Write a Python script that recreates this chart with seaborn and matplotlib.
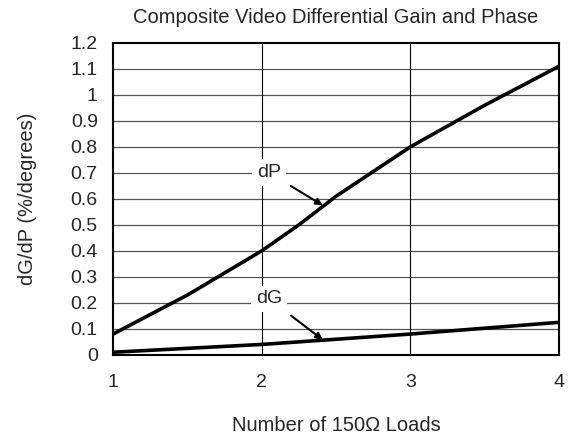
import matplotlib
matplotlib.use('Agg')
import matplotlib.pyplot as plt
import numpy as np
import pandas as pd
import seaborn as sns

loads = [1, 1.5, 2, 2.25, 2.5, 3, 3.5, 4]
dp_values = [0.08, 0.23, 0.40, 0.50, 0.61, 0.80, 0.96, 1.11]
dg_loads = [1, 2, 3, 4]
dg_values = [0.01, 0.04, 0.08, 0.125]

sns.set_style('white')
plt.rcParams['font.family'] = ['Liberation Sans', 'DejaVu Sans']

df = pd.concat([
    pd.DataFrame({'Loads': loads, 'Value': dp_values, 'Curve': 'dP'}),
    pd.DataFrame({'Loads': dg_loads, 'Value': dg_values, 'Curve': 'dG'}),
])

fig = plt.figure(figsize=(5.74, 4.37), dpi=100)
ax = fig.add_axes([0.197, 0.188, 0.777, 0.714])

sns.lineplot(data=df, x='Loads', y='Value', units='Curve', estimator=None,
             color='black', linewidth=2.6, ax=ax, legend=False, sort=True)

ax.set_xlim(1, 4)
ax.set_ylim(0, 1.2)
ax.set_xticks([1, 2, 3, 4])
ax.set_xticklabels(['1', '2', '3', '4'])
ax.set_yticks(np.arange(0, 1.21, 0.1))
ax.set_yticklabels(['0', '0.1', '0.2', '0.3', '0.4', '0.5', '0.6', '0.7',
                    '0.8', '0.9', '1', '1.1', '1.2'])
ax.tick_params(axis='both', labelsize=14, length=0)
ax.tick_params(axis='y', pad=11)
ax.tick_params(axis='x', pad=14)

for y in np.arange(0.1, 1.2, 0.1):
    ax.axhline(y, color='#555555', linewidth=0.9, zorder=0)
for x in [2, 3]:
    ax.axvline(x, color='black', linewidth=0.8, zorder=0)
for s in ax.spines.values():
    s.set_color('black')
    s.set_linewidth(1.5)

ax.set_xlabel('Number of 150Ω Loads', fontsize=14.5, labelpad=18)
ax.set_ylabel('dG/dP (%/degrees)', fontsize=14.5, labelpad=24)
ax.set_title('Composite Video Differential Gain and Phase', fontsize=14.5, pad=14)

bbox = dict(boxstyle='square,pad=0.25', fc='white', ec='none')
ax.annotate('dP', xy=(2.41, 0.575), xytext=(2.05, 0.70), fontsize=14,
            ha='center', va='center', bbox=bbox,
            arrowprops=dict(arrowstyle='-|>', color='black', lw=1.5,
                            shrinkA=4, shrinkB=0, mutation_scale=10))
ax.annotate('dG', xy=(2.41, 0.058), xytext=(2.05, 0.215), fontsize=14,
            ha='center', va='center', bbox=bbox,
            arrowprops=dict(arrowstyle='-|>', color='black', lw=1.5,
                            shrinkA=4, shrinkB=0, mutation_scale=10))

fig.savefig('out.png', dpi=100)
